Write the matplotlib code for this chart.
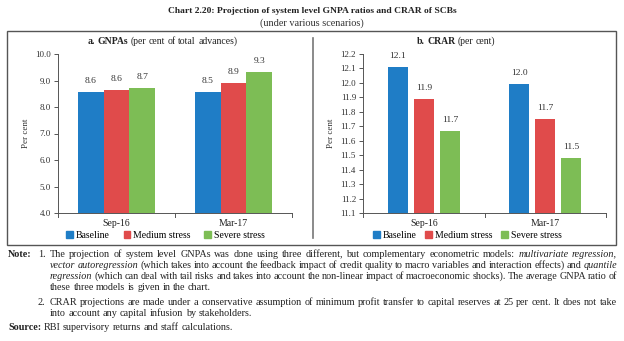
import numpy as np
import matplotlib.pyplot as plt
from matplotlib.patches import Rectangle
from matplotlib.lines import Line2D

plt.rcParams['font.family'] = ['Liberation Serif', 'DejaVu Serif']

periods = ['Sep-16', 'Mar-17']
scenarios = ['Baseline', 'Medium stress', 'Severe stress']
colors = ['#1f7dc6', '#e04b4b', '#7dbd55']

gnpa = {
    'Baseline': [8.58, 8.55],
    'Medium stress': [8.65, 8.90],
    'Severe stress': [8.72, 9.32],
}
gnpa_labels = {
    'Baseline': ['8.6', '8.5'],
    'Medium stress': ['8.6', '8.9'],
    'Severe stress': ['8.7', '9.3'],
}
crar = {
    'Baseline': [12.11, 11.99],
    'Medium stress': [11.89, 11.75],
    'Severe stress': [11.67, 11.48],
}
crar_labels = {
    'Baseline': ['12.1', '12.0'],
    'Medium stress': ['11.9', '11.7'],
    'Severe stress': ['11.7', '11.5'],
}

W, H = 624, 341
fig = plt.figure(figsize=(W / 100, H / 100), dpi=100)


def fx(px):
    return px / W


def fy(py):
    return 1 - py / H


def draw_panel(ax, data, labels, ylim, yticks, width, step, leg_x, colsp):
    x = np.arange(len(periods))
    for i, s in enumerate(scenarios):
        pos = x + (i - 1) * step
        bars = ax.bar(pos, data[s], width, color=colors[i], label=s, zorder=2)
        for b, lab in zip(bars, labels[s]):
            ax.annotate(lab, (b.get_x() + b.get_width() / 2, b.get_height()),
                        xytext=(0, 5), textcoords='offset points',
                        ha='center', va='bottom', fontsize=6.8, color='#333333')
    ax.set_ylim(*ylim)
    ax.set_yticks(yticks)
    ax.set_yticklabels(['%.1f' % v for v in yticks], fontsize=6.5, color='#333333')
    ax.set_xlim(-0.5, len(periods) - 0.5)
    ax.set_xticks(x)
    ax.set_xticklabels(periods, fontsize=7, color='#222222')
    ax.tick_params(axis='x', length=0, pad=4)
    ax.tick_params(axis='y', length=3, width=0.7, color='#555555', pad=2)
    for b in [-0.5, 0.5, 1.5]:
        ax.plot([b, b], [0, -0.025], transform=ax.get_xaxis_transform(),
                color='#555555', lw=0.7, clip_on=False)
    for sp in ['top', 'right']:
        ax.spines[sp].set_visible(False)
    for sp in ['left', 'bottom']:
        ax.spines[sp].set_color('#555555')
        ax.spines[sp].set_linewidth(0.7)
    ax.set_ylabel('Per cent', fontsize=6.5, color='#333333', labelpad=4)
    handles = [Rectangle((0, 0), 1, 1, color=c) for c in colors]
    ax.legend(handles, scenarios, loc='upper center', bbox_to_anchor=(leg_x, -0.09),
              ncol=3, frameon=False, fontsize=7, handlelength=0.7, handleheight=0.7,
              handletextpad=0.3, columnspacing=colsp, borderaxespad=0)


ax1 = fig.add_axes([fx(58), fy(213), fx(292 - 58), fy(54) - fy(213)])
draw_panel(ax1, gnpa, gnpa_labels, (4.0, 10.0), np.arange(4.0, 10.01, 1.0),
           0.222, 0.222, 0.46, 1.4)

ax2 = fig.add_axes([fx(363), fy(213), fx(606 - 363), fy(54) - fy(213)])
draw_panel(ax2, crar, crar_labels, (11.1, 12.2), np.round(np.arange(11.1, 12.21, 0.1), 1),
           0.165, 0.215, 0.43, 0.9)

# frame and divider
fig.add_artist(Rectangle((fx(7), fy(245)), fx(616 - 7), fy(31) - fy(245),
                         transform=fig.transFigure, fill=False, ec='#555555', lw=1.0))
fig.add_artist(Line2D([fx(313), fx(313)], [fy(38), fy(238)], transform=fig.transFigure,
                      color='#777777', lw=1.2))

# titles
fig.text(0.5, fy(11), 'Chart 2.20: Projection of system level GNPA ratios and CRAR of SCBs',
         ha='center', va='center', fontsize=6.8, fontweight='bold', color='#222222')
fig.text(0.5, fy(23), '(under various scenarios)', ha='center', va='center',
         fontsize=7.4, color='#333333')

fig.canvas.draw()
renderer = fig.canvas.get_renderer()


def style_kw(st):
    if st == 'b':
        return {'fontweight': 'bold'}
    if st == 'i':
        return {'fontstyle': 'italic'}
    return {}


def put_line(x0, y0, parts, size=7.3, right=None):
    # lay words one after another; with right given, stretch gaps to justify
    words = [(w, st) for txt, st in parts for w in txt.split()]
    items = []
    for w, st in words:
        t = fig.text(0, fy(y0), w, ha='left', va='baseline', fontsize=size,
                     color='#222222', **style_kw(st))
        items.append((t, t.get_window_extent(renderer).width))
    gap = 0.25 * size * 100 / 72
    if right is not None and len(items) > 1:
        gap = (right - x0 - sum(w for _, w in items)) / (len(items) - 1)
    x = x0
    for t, w in items:
        t.set_x(fx(x))
        x += w + gap


put_line(88, 44, [('a. GNPAs', 'b'), ('(per cent of total advances)', 'n')], 7)
put_line(417, 44, [('b. CRAR', 'b'), ('(per cent)', 'n')], 7)

R = 617
TX = 50
put_line(8, 257, [('Note:', 'b')])
put_line(38, 257, [('1.', 'n')])
put_line(TX, 257, [('The projection of system level GNPAs was done using three different, but complementary econometric models:', 'n'),
                   ('multivariate regression,', 'i')], right=R)
put_line(TX, 268, [('vector autoregression', 'i'),
                   ('(which takes into account the feedback impact of credit quality to macro variables and interaction effects) and', 'n'),
                   ('quantile', 'i')], right=R)
put_line(TX, 279, [('regression', 'i'),
                   ('(which can deal with tail risks and takes into account the non-linear impact of macroeconomic shocks). The average GNPA ratio of', 'n')],
         right=R)
put_line(TX, 290, [('these three models is given in the chart.', 'n')])
put_line(38, 305, [('2.', 'n')])
put_line(TX, 305, [('CRAR projections are made under a conservative assumption of minimum profit transfer to capital reserves at 25 per cent. It does not take', 'n')],
         right=R)
put_line(TX, 316, [('into account any capital infusion by stakeholders.', 'n')])
put_line(8, 330, [('Source:', 'b'), ('RBI supervisory returns and staff calculations.', 'n')])

fig.savefig('out.png', dpi=100)
